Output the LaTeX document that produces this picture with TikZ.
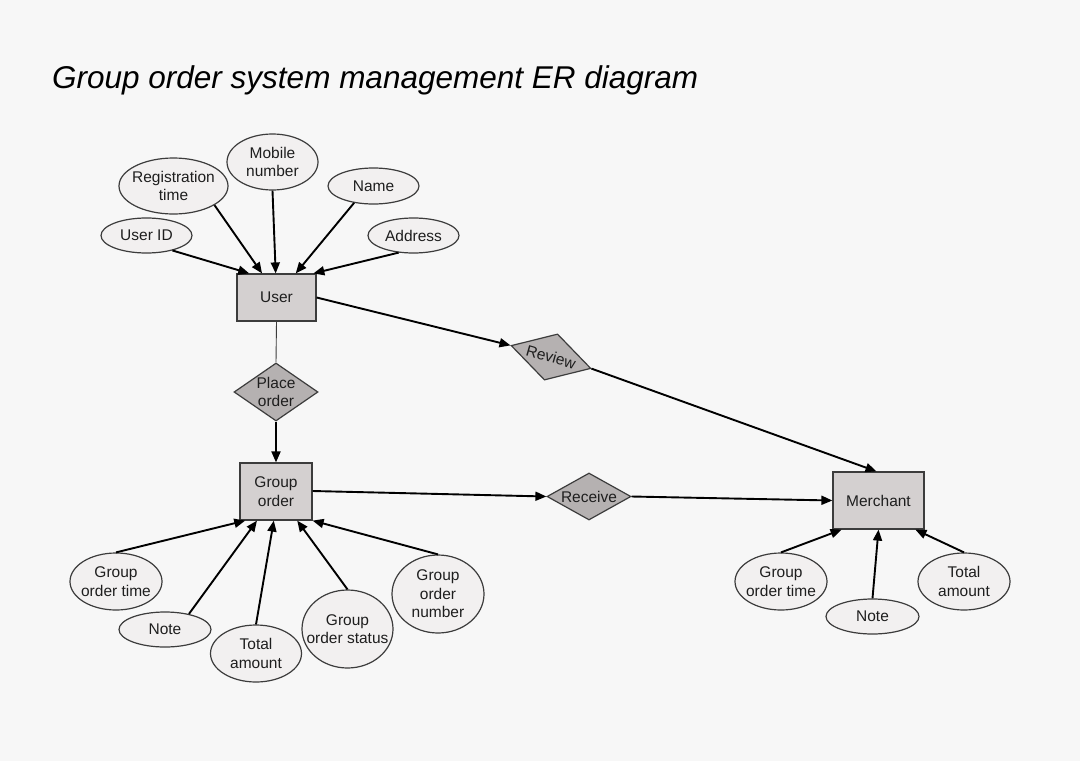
\documentclass[tikz,border=0pt]{standalone}
\usepackage{fontspec}
\setmainfont{Liberation Sans}
\usetikzlibrary{shapes.geometric,arrows.meta,calc}
\definecolor{bg}{HTML}{F7F7F7}
\definecolor{efill}{HTML}{D4D0D0}
\definecolor{rfill}{HTML}{B5B1B1}
\definecolor{afill}{HTML}{F2F0F0}
\definecolor{bord}{HTML}{3C3C3C}
\definecolor{txt}{HTML}{1E1E1E}
\begin{document}
\begin{tikzpicture}[x=1pt,y=-1pt,
  nf/.style={font=\fontsize{15.5}{18.5}\selectfont},
  lab/.style={nf,align=center,inner sep=0pt,text=txt},
  attr/.style={ellipse,draw=bord,fill=afill,line width=1.2pt,inner sep=0pt},
  ent/.style={rectangle,draw=bord,fill=efill,line width=1.2pt,inner sep=0pt,nf,align=center,text=txt},
  rel/.style={diamond,draw=bord,fill=rfill,line width=1.2pt,inner sep=0pt},
  arr/.style={-{Triangle[length=11pt,width=9pt]},line width=1.9pt,black},
]
\useasboundingbox[fill=bg] (0,0) rectangle (1080,761);

\node[anchor=base west,inner sep=0pt,text=black,font=\fontsize{31.5}{36}\selectfont\itshape] (title) at (52,88) {Group order system management ER diagram};

% entities
\node[ent,minimum width=79pt,minimum height=47pt] (user) at (276.5,297.5) {User};
\node[ent,minimum width=72pt,minimum height=57pt] (go) at (276,491.5) {Group\\order};
\node[ent,minimum width=91pt,minimum height=57pt] (mer) at (878.5,500.5) {Merchant};

% relationships
\node[rel,minimum width=84pt,minimum height=58pt,label={[lab]center:Place\\order}] (po) at (276,392) {};
\node[rel,minimum width=83pt,minimum height=48pt,rotate=-16,label={[lab,rotate=-16]center:Review}] (rev) at (551,357) {};
\node[rel,minimum width=84pt,minimum height=47pt,label={[lab]center:Receive}] (rec) at (589,496.5) {};

% user attributes
\node[attr,minimum width=91pt,minimum height=35pt,label={[lab]center:User ID}] (uid) at (146.5,235.5) {};
\node[attr,minimum width=109pt,minimum height=56pt,label={[lab]center:Registration\\time}] (reg) at (173.5,186) {};
\node[attr,minimum width=91pt,minimum height=56pt,label={[lab]center:Mobile\\number}] (mob) at (272.5,162) {};
\node[attr,minimum width=91pt,minimum height=36pt,label={[lab]center:Name}] (name) at (373.5,186) {};
\node[attr,minimum width=91pt,minimum height=35pt,label={[lab]center:Address}] (addr) at (413.5,235.5) {};

% group order attributes
\node[attr,minimum width=92pt,minimum height=57pt,label={[lab]center:Group\\order time}] (got) at (116,581.5) {};
\node[attr,minimum width=92pt,minimum height=35pt,label={[lab]center:Note}] (gnote) at (165,629.5) {};
\node[attr,minimum width=91pt,minimum height=57pt,label={[lab]center:Total\\amount}] (gta) at (256,653.5) {};
\node[attr,minimum width=91pt,minimum height=78pt,label={[lab]center:Group\\order status}] (gos) at (347.5,629) {};
\node[attr,minimum width=92pt,minimum height=78pt,label={[lab]center:Group\\order\\number}] (gon) at (438,594) {};

% merchant attributes
\node[attr,minimum width=92pt,minimum height=57pt,label={[lab]center:Group\\order time}] (mgot) at (781,581.5) {};
\node[attr,minimum width=93pt,minimum height=35pt,label={[lab]center:Note}] (mnote) at (872.5,616.5) {};
\node[attr,minimum width=92pt,minimum height=57pt,label={[lab]center:Total\\amount}] (mta) at (964,581.5) {};

% user attribute arrows
\draw[arr] (uid.-30) -- ($(user.north west)!0.16!(user.north east)$);
\draw[arr] (reg.-25) -- ($(user.north west)!0.32!(user.north east)$);
\draw[arr] (mob.south) -- ($(user.north west)!0.49!(user.north east)$);
\draw[arr] (name.-139) -- ($(user.north west)!0.74!(user.north east)$);
\draw[arr] (addr.-131) -- ($(user.north west)!0.96!(user.north east)$);

% group order attribute arrows
\draw[arr] (got.north) -- ($(go.south west)!0.08!(go.south east)$);
\draw[arr] (gnote.33) -- ($(go.south west)!0.24!(go.south east)$);
\draw[arr] (gta.north) -- ($(go.south west)!0.47!(go.south east)$);
\draw[arr] (gos.north) -- ($(go.south west)!0.79!(go.south east)$);
\draw[arr] (gon.north) -- ($(go.south west)!1.0!(go.south east)$);

% merchant attribute arrows
\draw[arr] (mgot.north) -- ($(mer.south west)!0.1!(mer.south east)$);
\draw[arr] (mnote.north) -- ($(mer.south west)!0.5!(mer.south east)$);
\draw[arr] (mta.north) -- ($(mer.south west)!0.9!(mer.south east)$);

% relationships
\draw[line width=0.9pt,bord] (user.south) -- (po.north);
\draw[arr] (po.south) -- (go.north);
\draw[arr] (user.east) -- (rev.west);
\draw[arr] (rev.east) -- ($(mer.north)+(-2,0)$);
\draw[arr] ($(go.east)+(0,-0.5)$) -- (rec.west);
\draw[arr] (rec.east) -- (mer.west);
\end{tikzpicture}
\end{document}
